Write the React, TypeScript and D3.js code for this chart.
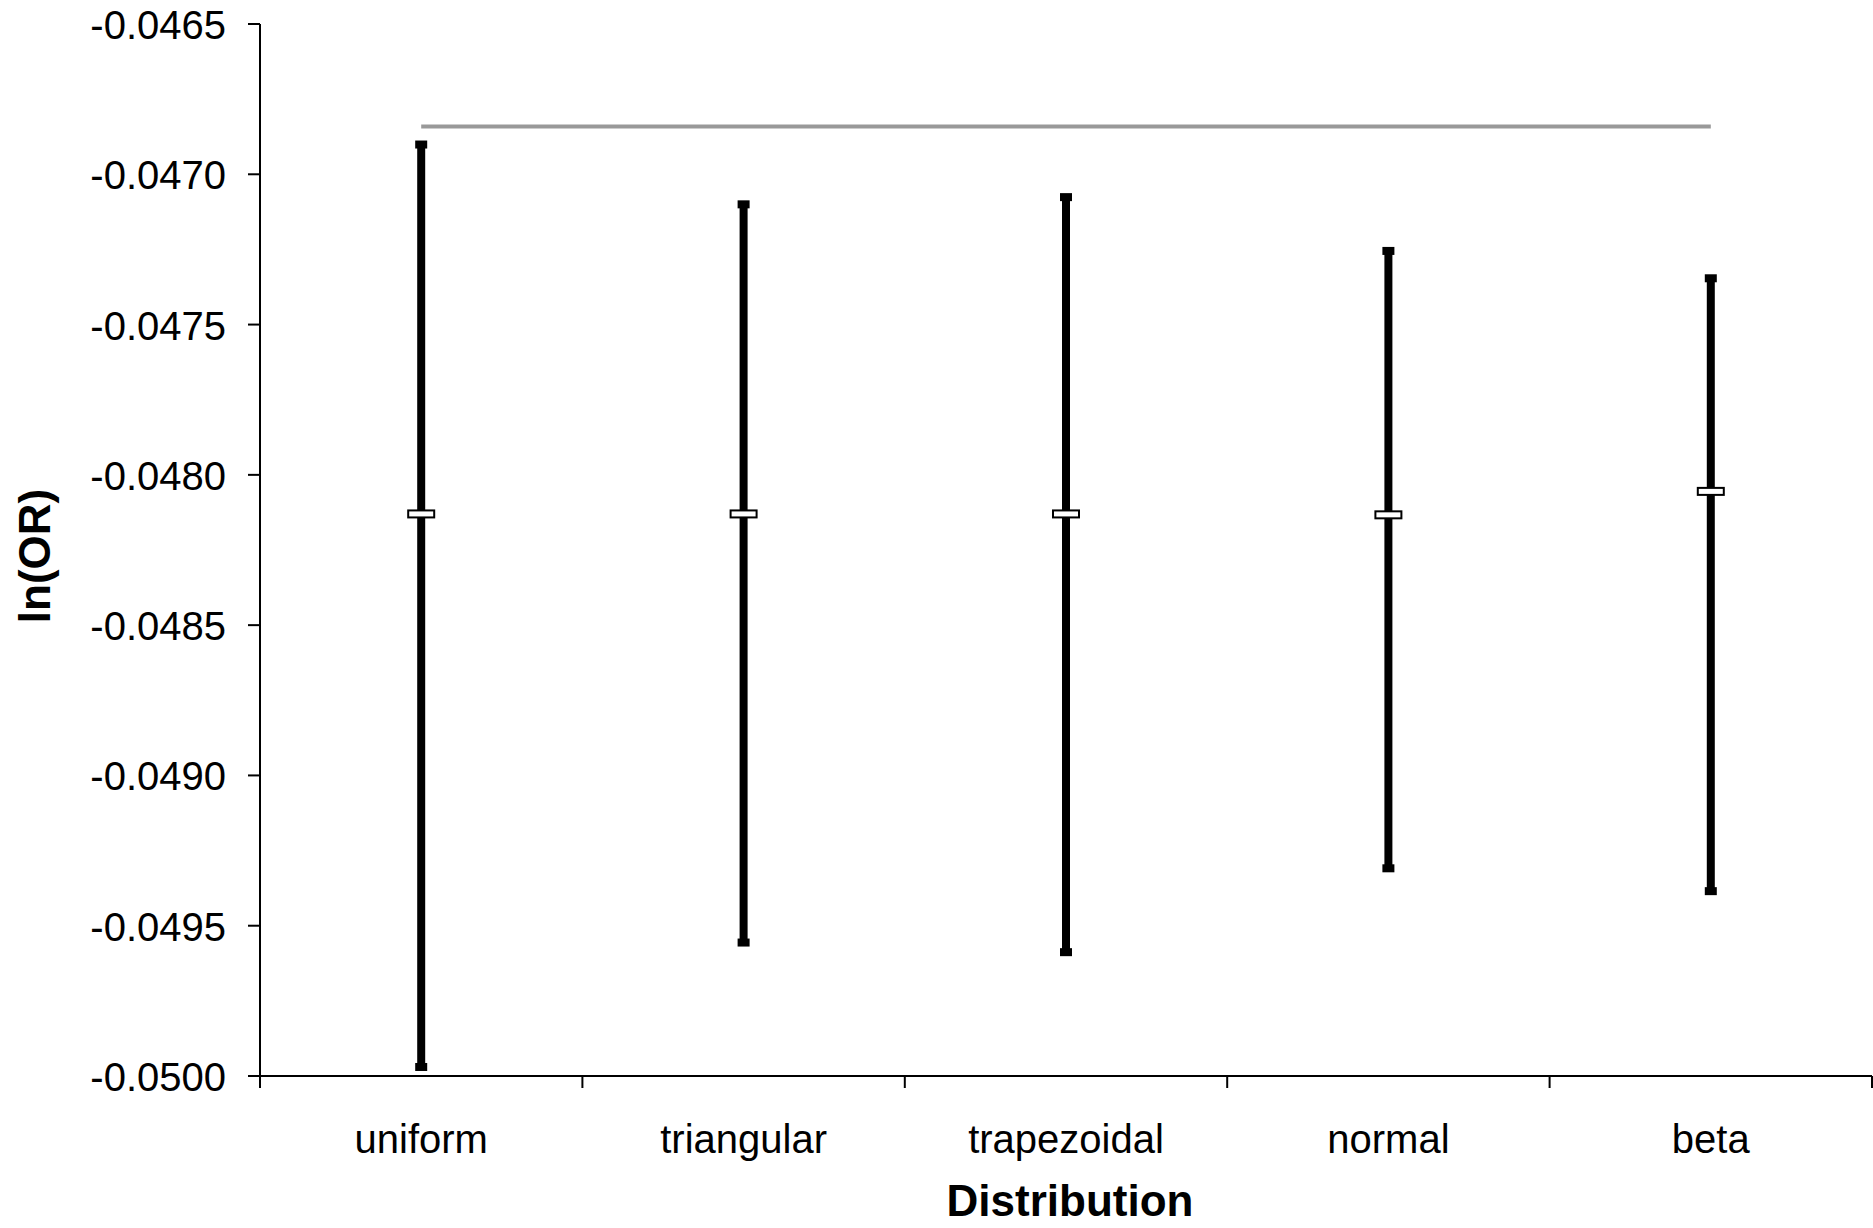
import React from "react";
import * as d3 from "d3";

const categories: string[] = ["uniform", "triangular", "trapezoidal", "normal", "beta"];
const means: number[] = [-0.04813, -0.04813, -0.04813, -0.048133, -0.048055];
const lowers: number[] = [-0.04997, -0.049556, -0.049588, -0.049309, -0.049385];
const uppers: number[] = [-0.046901, -0.0471, -0.047076, -0.047255, -0.047346];
const referenceValue = -0.046841;
const yTicks: number[] = [-0.0465, -0.047, -0.0475, -0.048, -0.0485, -0.049, -0.0495, -0.05];

const W = 1873;
const H = 1228;
const left = 260;
const right = 1872;
const top = 24;
const bottom = 1076;
const FONT = "'Liberation Sans', Arial, Helvetica, sans-serif";

export default function App() {
  const x = d3.scaleBand<string>().domain(categories).range([left, right]).padding(0);
  const y = d3.scaleLinear().domain([-0.05, -0.0465]).range([bottom, top]);
  const cx = (c: string) => (x(c) as number) + x.bandwidth() / 2;
  const boundaries = d3.range(categories.length + 1).map((i) => left + i * x.step());

  return (
    <svg
      width={W}
      height={H}
      viewBox={`0 0 ${W} ${H}`}
      style={{ position: "absolute", left: 0, top: 0, background: "#fff" }}
    >
      <rect x={0} y={0} width={W} height={H} fill="#fff" />
      {/* reference line */}
      <line
        x1={cx(categories[0])}
        x2={cx(categories[categories.length - 1])}
        y1={y(referenceValue)}
        y2={y(referenceValue)}
        stroke="#999999"
        strokeWidth={4}
      />
      {/* y axis */}
      <line x1={left} x2={left} y1={top} y2={bottom} stroke="#000" strokeWidth={2} />
      {yTicks.map((t) => (
        <g key={t}>
          <line x1={left - 12} x2={left} y1={y(t)} y2={y(t)} stroke="#000" strokeWidth={2} />
          <text
            x={226}
            y={y(t)}
            dy={15}
            textAnchor="end"
            fontFamily={FONT}
            fontSize={40}
            fill="#000"
          >
            {t.toFixed(4)}
          </text>
        </g>
      ))}
      {/* x axis */}
      <line x1={left} x2={right} y1={bottom} y2={bottom} stroke="#000" strokeWidth={2} />
      {boundaries.map((b, i) => (
        <line key={i} x1={b} x2={b} y1={bottom} y2={bottom + 12} stroke="#000" strokeWidth={2} />
      ))}
      {categories.map((c) => (
        <text
          key={c}
          x={cx(c)}
          y={1153}
          textAnchor="middle"
          fontFamily={FONT}
          fontSize={40}
          fill="#000"
        >
          {c}
        </text>
      ))}
      {/* error bars */}
      {categories.map((c, i) => {
        const xc = cx(c);
        return (
          <g key={c}>
            <line x1={xc} x2={xc} y1={y(uppers[i])} y2={y(lowers[i])} stroke="#000" strokeWidth={8} />
            <rect x={xc - 6} y={y(uppers[i]) - 4} width={12} height={8} fill="#000" />
            <rect x={xc - 6} y={y(lowers[i]) - 4} width={12} height={8} fill="#000" />
            <rect
              x={xc - 13}
              y={y(means[i]) - 3.5}
              width={26}
              height={7}
              fill="#fff"
              stroke="#000"
              strokeWidth={2}
            />
          </g>
        );
      })}
      {/* axis titles */}
      <text
        x={1070}
        y={1216}
        textAnchor="middle"
        fontFamily={FONT}
        fontSize={44}
        fontWeight="bold"
        fill="#000"
      >
        Distribution
      </text>
      <text
        transform={`translate(50, ${(top + bottom) / 2 + 6}) rotate(-90)`}
        textAnchor="middle"
        fontFamily={FONT}
        fontSize={44}
        fontWeight="bold"
        fill="#000"
      >
        ln(OR)
      </text>
    </svg>
  );
}
